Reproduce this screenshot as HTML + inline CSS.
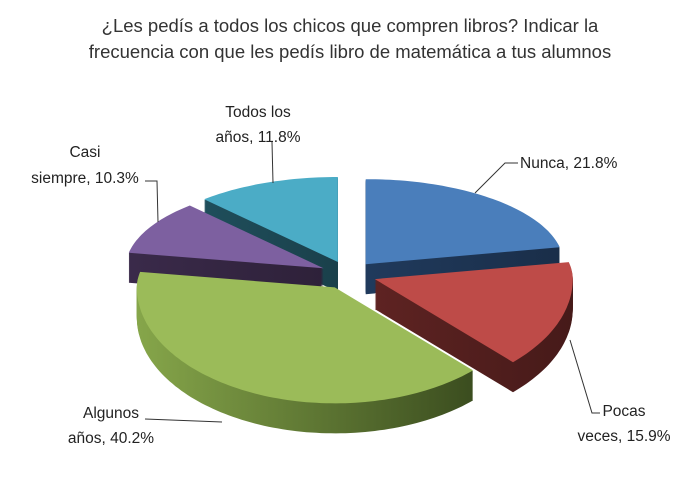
<!DOCTYPE html>
<html><head><meta charset="utf-8"><style>
body{margin:0;background:#fff;}
svg{display:block;font-family:"Liberation Sans",Arial,sans-serif;}
</style></head><body>
<svg width="692" height="485" viewBox="0 0 692 485">
<defs>
<linearGradient id="gG" x1="0" x2="1" y1="0" y2="0"><stop offset="0" stop-color="#86a64a"/><stop offset="1" stop-color="#3b4d1f"/></linearGradient>
<linearGradient id="gB" x1="0" x2="1"><stop offset="0" stop-color="#203a5c"/><stop offset="1" stop-color="#1a2e49"/></linearGradient>
<linearGradient id="gR" x1="0" x2="1"><stop offset="0" stop-color="#5e2322"/><stop offset="1" stop-color="#461a19"/></linearGradient>
<linearGradient id="gP" x1="0" x2="1"><stop offset="0" stop-color="#3a2a4a"/><stop offset="1" stop-color="#2e2139"/></linearGradient>
<linearGradient id="gT" x1="0" x2="1"><stop offset="0" stop-color="#1f4e5b"/><stop offset="1" stop-color="#1a404b"/></linearGradient>
</defs>
<text x="350" y="32" text-anchor="middle" font-size="18.5" fill="#333">¿Les pedís a todos los chicos que compren libros? Indicar la</text>
<text x="350" y="58" text-anchor="middle" font-size="18.5" fill="#333">frecuencia con que les pedís libro de matemática a tus alumnos</text>
<g id="slices"></g>
<g stroke="#333" stroke-width="1" fill="none">
<polyline points="518,163 505,163 475,193"/>
<polyline points="600,413 592,413 570,340"/>
<polyline points="145,419 222,422"/>
<polyline points="145,181 157,181 158,222"/>
<polyline points="272,142 273,183"/>
</g>
<g font-size="15.5" fill="#222">
<text x="520" y="168">Nunca, 21.8%</text>
<text text-anchor="middle" x="624" y="416">Pocas</text>
<text text-anchor="middle" x="624" y="441">veces, 15.9%</text>
<text text-anchor="middle" x="111" y="418">Algunos</text>
<text text-anchor="middle" x="111" y="443">años, 40.2%</text>
<text text-anchor="middle" x="85" y="157">Casi</text>
<text text-anchor="middle" x="85" y="183">siempre, 10.3%</text>
<text text-anchor="middle" x="258" y="117">Todos los</text>
<text text-anchor="middle" x="258" y="142">años, 11.8%</text>
</g>
</svg>
<script>
const categories = ["Nunca","Pocas veces","Algunos años","Casi siempre","Todos los años"];
const values = [21.8, 15.9, 40.2, 10.3, 11.8];
const topColors = ["#4a7ebb","#be4b48","#9bbb59","#7d60a0","#4bacc6"];
const sideFills = ["url(#gB)","url(#gR)","url(#gG)","url(#gP)","url(#gT)"];
const cx=348, cy=275, rx=198, ryBack=85, ryFront=116, depth=30, explode=28;
const NS="http://www.w3.org/2000/svg";
const g=document.getElementById('slices');
function pt(t){const s=Math.sin(t);return [cx+rx*Math.cos(t), cy+(s>0?ryFront:ryBack)*s];}
const total=values.reduce((a,b)=>a+b,0);
let acc=0; const slices=[];
values.forEach((v,i)=>{
  const a0=-Math.PI/2+acc/total*2*Math.PI; acc+=v;
  const a1=-Math.PI/2+acc/total*2*Math.PI;
  const m=(a0+a1)/2;
  const dx=Math.cos(m)*explode, dy=Math.sin(m)*explode*0.5;
  const pts=[[cx+dx,cy+dy]];
  const n=Math.max(8,Math.ceil((a1-a0)*40));
  for(let k=0;k<=n;k++){const p=pt(a0+(a1-a0)*k/n);pts.push([p[0]+dx,p[1]+dy]);}
  slices.push({i,pts,order:Math.sin(m)});
});
slices.sort((a,b)=>a.order-b.order);
slices.forEach(s=>{
  const grp=document.createElementNS(NS,'g');
  
  
  for(let d=depth;d>=1;d--){
    const p=document.createElementNS(NS,'polygon');
    
    
    p.setAttribute('points',s.pts.map(q=>q[0].toFixed(1)+','+(q[1]+d).toFixed(1)).join(' '));
    p.setAttribute('fill',sideFills[s.i]);
    grp.appendChild(p);
  }
  const top=document.createElementNS(NS,'polygon');
  
  
  top.setAttribute('points',s.pts.map(q=>q[0].toFixed(1)+','+q[1].toFixed(1)).join(' '));
  top.setAttribute('fill',topColors[s.i]);
  grp.appendChild(top);
  g.appendChild(grp);
});
</script>
</body></html>
